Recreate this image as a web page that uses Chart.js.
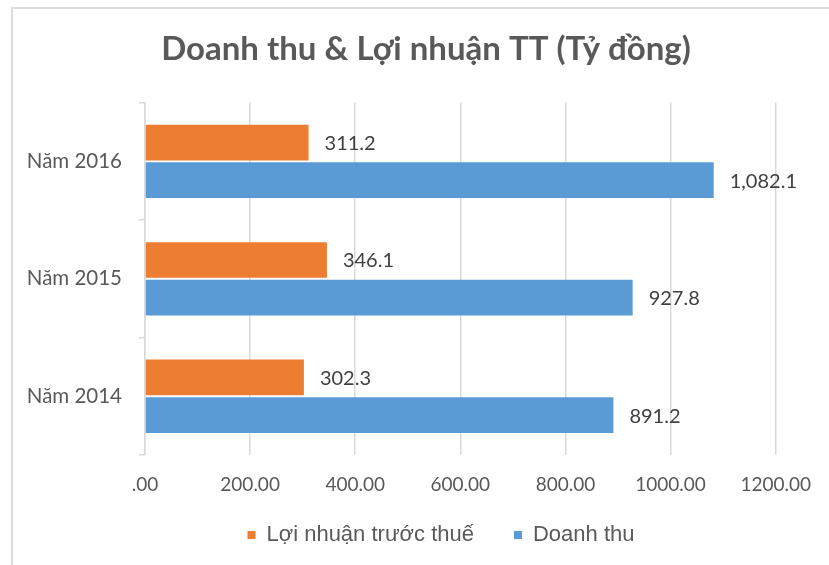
<!DOCTYPE html>
<html>
<head>
<meta charset="utf-8">
<script src="https://cdn.jsdelivr.net/npm/chart.js@4"></script>
<style>
  html, body { margin: 0; padding: 0; background: #fff; }
  #wrap { position: relative; width: 829px; height: 565px; overflow: hidden; }
  #frame { position: absolute; left: 11px; top: 7px; width: 840px; height: 580px; border: 2px solid #dcdcdc; box-sizing: border-box; }
  canvas { position: absolute; left: 0; top: 0; }
</style>
</head>
<body>
<div id="wrap">
  <div id="frame"></div>
  <canvas id="chartRevenue" width="829" height="565"></canvas>
</div>
<script>
// dữ liệu
const categories = ['Năm 2016', 'Năm 2015', 'Năm 2014'];
const profitBeforeTax = [311.2, 346.1, 302.3];
const revenue = [1082.1, 927.8, 891.2];
const seriesNames = ['Lợi nhuận trước thuế', 'Doanh thu'];
const xTicks = [0, 200, 400, 600, 800, 1000, 1200];
const xTickLabels = ['.00', '200.00', '400.00', '600.00', '800.00', '1000.00', '1200.00'];

// nhãn giá trị ở cuối mỗi thanh
const barValueLabels = {
    id: 'barValueLabels',
    afterDatasetsDraw(chart) {
        const ctx = chart.ctx;
        ctx.save();
        ctx.font = '20px Lato, "Open Sans", sans-serif';
        ctx.fillStyle = '#404040';
        ctx.textBaseline = 'middle';
        ctx.textAlign = 'left';
        chart.data.datasets.forEach((ds, i) => {
            chart.getDatasetMeta(i).data.forEach((bar, j) => {
                const txt = ds.data[j].toLocaleString('en-US', { minimumFractionDigits: 1, maximumFractionDigits: 1 });
                ctx.fillText(txt, bar.x + 16, bar.y + 1);
            });
        });
        ctx.restore();
    }
};

// dời tiêu đề và chú thích sang phải như bản Excel, giãn khoảng cách giữa các mục chú thích
const shiftBoxes = {
    id: 'shiftBoxes',
    afterLayout(chart) {
        const t = chart.titleBlock;
        t.left += 31; t.right += 31;
        const lg = chart.legend;
        lg.left += 33; lg.right += 33;
        lg.options.labels.padding = 40;
        lg.top -= 13;
    }
};

const ctx = document.getElementById('chartRevenue').getContext('2d');
new Chart(ctx, {
    type: 'bar',
    data: {
        labels: categories,
        datasets: [
            {
                label: seriesNames[0],
                data: profitBeforeTax,
                backgroundColor: '#ED7D31',
                categoryPercentage: 0.64,
                barPercentage: 0.95
            },
            {
                label: seriesNames[1],
                data: revenue,
                backgroundColor: '#5B9BD5',
                categoryPercentage: 0.64,
                barPercentage: 0.95
            }
        ]
    },
    options: {
        indexAxis: 'y',
        responsive: false,
        animation: false,
        layout: { padding: { left: 10, right: 49, top: 0, bottom: 9 } },
        plugins: {
            title: {
                display: true,
                text: 'Doanh thu & Lợi nhuận TT (Tỷ đồng)',
                color: '#595959',
                font: { family: 'Lato, "Open Sans", sans-serif', size: 33, weight: 'bold' },
                padding: { top: 30, bottom: 33 }
            },
            legend: {
                position: 'bottom',
                labels: {
                    color: '#595959',
                    font: { family: '"Liberation Sans", Arial, sans-serif', size: 22 },
                    boxWidth: 8,
                    boxHeight: 8,
                    padding: 27
                }
            },
            tooltip: { enabled: false }
        },
        scales: {
            x: {
                min: 0,
                max: 1200,
                afterBuildTicks(scale) {
                    scale.ticks = xTicks.map(v => ({ value: v }));
                },
                ticks: {
                    color: '#595959',
                    font: { family: 'Lato, "Open Sans", sans-serif', size: 19 },
                    padding: 18,
                    callback: (v, i) => xTickLabels[i]
                },
                grid: { color: '#d9d9d9', lineWidth: 1.5, drawTicks: false },
                border: { display: false },
                afterFit(scale) { scale.height = 42; }
            },
            y: {
                ticks: {
                    color: '#595959',
                    font: { family: 'Lato, "Open Sans", sans-serif', size: 20.5 },
                    padding: 17
                },
                grid: {
                    offset: true,
                    drawOnChartArea: false,
                    drawTicks: true,
                    tickLength: 6,
                    color: '#d9d9d9',
                    lineWidth: 1.5
                },
                border: { display: true, color: '#d9d9d9', width: 1.5 },
                afterFit(scale) { scale.width = 135; }
            }
        }
    },
    plugins: [barValueLabels, shiftBoxes]
});
</script>
</body>
</html>
